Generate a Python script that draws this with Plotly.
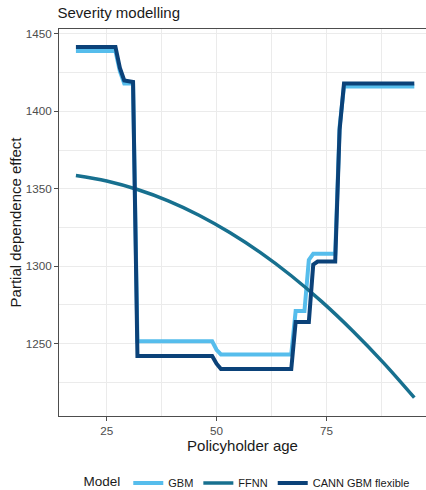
import plotly.graph_objects as go

# Partial dependence by policyholder age
gbm_age = [18, 27, 28, 29, 31, 32, 49, 50, 51, 67, 68, 70, 71, 72, 77, 78, 79, 95]
gbm_val = [1439, 1439, 1426, 1418, 1418, 1251.5, 1251.5, 1246, 1243, 1243, 1271, 1271, 1304, 1308, 1308, 1390, 1416, 1416]

ffnn_age = [18, 25, 32, 39, 46, 53, 60, 67, 74, 81, 88, 95]
ffnn_val = [1358.6, 1355.0, 1349.5, 1342.2, 1332.9, 1321.7, 1308.7, 1293.8, 1276.9, 1258.1, 1237.5, 1215.0]

cann_age = [18, 27, 28, 29, 31, 32, 49, 50, 51, 67, 68, 71, 72, 73, 77, 78, 79, 95]
cann_val = [1441.5, 1441.5, 1428, 1420, 1419, 1242, 1242, 1237, 1233.5, 1233.5, 1264, 1264, 1301, 1303, 1303, 1388, 1418, 1418]

series_names = ["GBM", "FFNN", "CANN GBM flexible"]
series_colors = ["#56BDEC", "#17708F", "#0B4279"]

FONT = "Liberation Sans, Arial, sans-serif"

fig = go.Figure()
fig.add_trace(go.Scatter(x=gbm_age, y=gbm_val, mode="lines", name=series_names[0],
                         line=dict(color=series_colors[0], width=4)))
fig.add_trace(go.Scatter(x=ffnn_age, y=ffnn_val, mode="lines", name=series_names[1],
                         line=dict(color=series_colors[1], width=3.5, shape="spline")))
fig.add_trace(go.Scatter(x=cann_age, y=cann_val, mode="lines", name=series_names[2],
                         line=dict(color=series_colors[2], width=4)))

fig.update_layout(
    width=426, height=490,
    margin=dict(l=59, r=0, t=29, b=74, autoexpand=False),
    paper_bgcolor="white", plot_bgcolor="white",
    font=dict(family=FONT, color="#1a1a1a"),
    title=dict(text="Severity modelling", font=dict(size=15, color="#1a1a1a"),
               xref="container", x=57.5 / 426, xanchor="left",
               yref="container", y=1 - 13 / 490, yanchor="middle"),
    showlegend=True,
    legend=dict(orientation="h", xref="container", x=248 / 426, xanchor="center",
                yref="container", y=1 - 483 / 490, yanchor="middle",
                title=dict(text="Model", font=dict(size=13.5, color="#1a1a1a"), side="left"),
                font=dict(size=11, color="#1a1a1a"), itemwidth=30,
                bgcolor="rgba(0,0,0,0)"),
)

fig.update_xaxes(
    automargin=False,
    range=[14.15, 97.66], tick0=0, dtick=25,
    showgrid=True, gridcolor="#EBEBEB", gridwidth=1,
    minor=dict(dtick=12.5, showgrid=True, gridcolor="#EBEBEB", gridwidth=1),
    showline=True, linecolor="#4d4d4d", linewidth=1, mirror=True,
    ticks="outside", ticklen=4, tickcolor="#4d4d4d",
    tickfont=dict(size=11.7, color="#4d4d4d"),
    zeroline=False,
    title=dict(text="Policyholder age", font=dict(size=15, color="#1a1a1a"), standoff=2),
)
fig.update_yaxes(
    automargin=False,
    range=[1203.2, 1453.2], tick0=0, dtick=50,
    showgrid=True, gridcolor="#EBEBEB", gridwidth=1,
    minor=dict(dtick=25, showgrid=True, gridcolor="#EBEBEB", gridwidth=1),
    showline=True, linecolor="#4d4d4d", linewidth=1, mirror=False,
    ticks="outside", ticklen=4, tickcolor="#4d4d4d",
    tickfont=dict(size=11.7, color="#4d4d4d"),
    zeroline=False,
    title=dict(text="Partial dependence effect", font=dict(size=15, color="#1a1a1a"), standoff=0),
)

fig.write_html(
    "out.html",
    config={"displayModeBar": False},
    post_script=(
        "document.documentElement.style.overflow='hidden';"
        "document.body.style.margin='0';"
        "document.body.style.overflow='hidden';"
    ),
)
